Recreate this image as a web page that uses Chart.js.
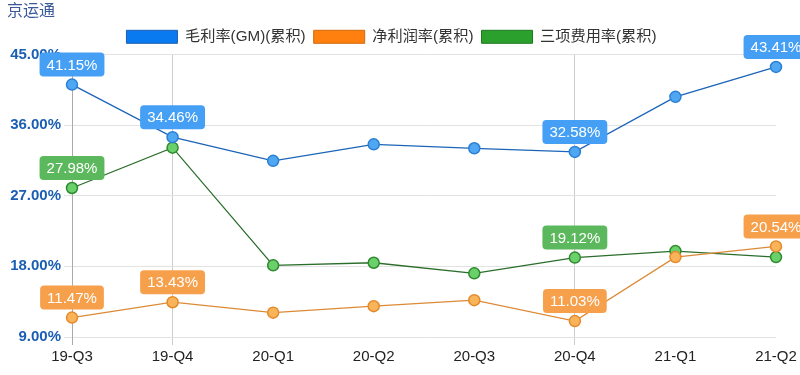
<!DOCTYPE html>
<html>
<head>
<meta charset="utf-8">
<script src="https://cdn.jsdelivr.net/npm/chart.js@4/dist/chart.umd.min.js"></script>
<style>
html,body{margin:0;padding:0;background:#fff;}
#wrap{width:800px;height:375px;position:relative;}
</style>
</head>
<body>
<div id="wrap"><canvas id="c" width="800" height="375"></canvas></div>
<script>
const chartTitle = '京运通';
const categories = ['19-Q3','19-Q4','20-Q1','20-Q2','20-Q3','20-Q4','21-Q1','21-Q2'];
const seriesNames = ['毛利率(GM)(累积)', '净利润率(累积)', '三项费用率(累积)'];
const gmValues  = [41.15, 34.46, 31.44, 33.54, 33.04, 32.58, 39.59, 43.41];
const netValues = [11.47, 13.43, 12.10, 12.93, 13.69, 11.03, 19.18, 20.54];
const expValues = [27.98, 33.12, 18.13, 18.46, 17.11, 19.12, 19.94, 19.18];
const gmLabelIdx  = [0, 1, 5, 7];
const netLabelIdx = [0, 1, 5, 7];
const expLabelIdx = [0, 5];
const yTicks = [9, 18, 27, 36, 45];
const xGridIdx = [0, 1, 5];

const FONT = "'Liberation Sans', Arial, 'Noto Sans CJK SC', sans-serif";

const styles = [
  {line:'#1c64b8', pFill:'#4fa7f2', pBorder:'#2a7fd6', box:'#45a0f5', legend:'#0a7af0', legendBorder:'#1f5fb0'},
  {line:'#dc8a36', pFill:'#f9b45a', pBorder:'#e48a2c', box:'#f7a04c', legend:'#ff800e', legendBorder:'#d06a10'},
  {line:'#2b6e2b', pFill:'#6ad16a', pBorder:'#2f8a2f', box:'#5cb85c', legend:'#2ca02c', legendBorder:'#1f7a1f'}
];
const labelIdx = [gmLabelIdx, netLabelIdx, expLabelIdx];

function mk(i, data){
  const s = styles[i];
  return {
    label: seriesNames[i],
    data: data,
    borderColor: s.line,
    backgroundColor: s.legend,
    borderWidth: 1.3,
    pointRadius: 5.5,
    pointHoverRadius: 5.5,
    pointBackgroundColor: s.pFill,
    pointBorderColor: s.pBorder,
    pointBorderWidth: 1.5,
    tension: 0,
    fill: false
  };
}

function rr(ctx, x, y, w, h, r){
  ctx.beginPath();
  ctx.moveTo(x + r, y);
  ctx.lineTo(x + w - r, y);
  ctx.quadraticCurveTo(x + w, y, x + w, y + r);
  ctx.lineTo(x + w, y + h - r);
  ctx.quadraticCurveTo(x + w, y + h, x + w - r, y + h);
  ctx.lineTo(x + r, y + h);
  ctx.quadraticCurveTo(x, y + h, x, y + h - r);
  ctx.lineTo(x, y + r);
  ctx.quadraticCurveTo(x, y, x + r, y);
  ctx.closePath();
}

const valueLabels = {
  id: 'valueLabels',
  afterDatasetsDraw(chart){
    const ctx = chart.ctx;
    ctx.save();
    ctx.font = '15px ' + FONT;
    ctx.textAlign = 'center';
    ctx.textBaseline = 'middle';
    chart.data.datasets.forEach((ds, di) => {
      const meta = chart.getDatasetMeta(di);
      labelIdx[di].forEach(i => {
        const pt = meta.data[i];
        const txt = ds.data[i].toFixed(2) + '%';
        const w = ctx.measureText(txt).width + 14;
        const h = 24;
        const bx = pt.x - w / 2;
        const by = pt.y - 8 - h;
        ctx.fillStyle = styles[di].box;
        rr(ctx, bx, by, w, h, 4);
        ctx.fill();
        ctx.fillStyle = '#ffffff';
        ctx.fillText(txt, pt.x, by + h / 2 + 1);
      });
    });
    ctx.restore();
  }
};

new Chart(document.getElementById('c'), {
  type: 'line',
  data: {
    labels: categories,
    datasets: [mk(0, gmValues), mk(1, netValues), mk(2, expValues)]
  },
  options: {
    responsive: false,
    animation: false,
    layout: {padding: {left: 7, right: 24, top: 0, bottom: 6}},
    plugins: {
      tooltip: {enabled: false},
      title: {
        display: true,
        text: chartTitle,
        align: 'start',
        color: '#3a5a9c',
        font: {family: FONT, size: 16, weight: 'normal'},
        padding: {top: 2, bottom: 0}
      },
      legend: {
        position: 'top',
        labels: {
          boxWidth: 51,
          boxHeight: 13,
          padding: 8,
          color: '#333',
          font: {family: FONT, size: 15.2},
          generateLabels(chart){
            const items = Chart.defaults.plugins.legend.labels.generateLabels(chart);
            items.forEach((it, i) => {
              it.fillStyle = styles[i].legend;
              it.strokeStyle = styles[i].legendBorder;
              it.lineWidth = 1;
            });
            return items;
          }
        }
      }
    },
    scales: {
      x: {
        offset: false,
        grid: {
          color: (c) => xGridIdx.includes(c.index) ? (c.index === 0 ? '#aaaaaa' : '#cccccc') : 'rgba(0,0,0,0)',
          lineWidth: 1,
          drawTicks: true,
          tickLength: 8
        },
        border: {display: false},
        ticks: {
          color: '#222',
          font: {family: FONT, size: 15},
          padding: 3,
          maxRotation: 0,
          autoSkip: false
        }
      },
      y: {
        min: yTicks[0],
        max: yTicks[yTicks.length - 1],
        afterBuildTicks(scale){ scale.ticks = yTicks.map(v => ({value: v})); },
        afterFit(scale){ scale.width = 65; },
        grid: {color: '#e2e2e2', lineWidth: 1, tickLength: 8},
        border: {display: true, color: '#aaaaaa'},
        ticks: {
          color: '#1a5fb4',
          font: {family: FONT, size: 15, weight: 'bold'},
          padding: 3,
          callback: (v) => Number(v).toFixed(2) + '%'
        }
      }
    }
  },
  plugins: [valueLabels]
});
</script>
</body>
</html>
